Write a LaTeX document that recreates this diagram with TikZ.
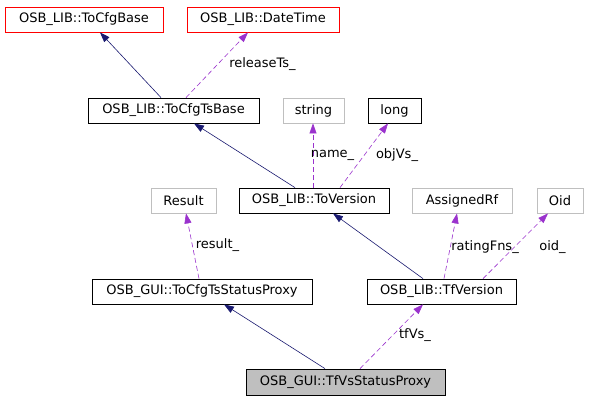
\documentclass[tikz,border=0pt]{standalone}
\usepackage{fontspec}
\setmainfont{DejaVu Sans}
\usepackage{tikz}
\usetikzlibrary{arrows.meta,positioning}

\definecolor{inhblue}{HTML}{191970}
\definecolor{usepurple}{HTML}{9A32CD}
\definecolor{boxgray}{HTML}{BFBFBF}

\begin{document}
\begin{tikzpicture}[
  x=1pt, y=-1pt,
  font=\fontsize{13}{15}\selectfont,
  cls/.style={draw=black, line width=0.8pt, rectangle, minimum height=25pt,
              inner sep=0pt},
  ext/.style={cls, draw=boxgray},
  undoc/.style={cls, draw=red},
  cur/.style={cls, fill=boxgray, minimum height=26pt},
  inh/.style={-{Triangle[length=10pt,width=7pt]}, draw=inhblue, line width=0.6pt},
  use/.style={-{Triangle[length=10pt,width=7pt]}, draw=usepurple, line width=0.6pt,
              dash pattern=on 5pt off 3pt},
  lbl/.style={inner sep=0pt},
]
\useasboundingbox[fill=white] (0,0) rectangle (593,400);

% ======================= top row =======================
\node[undoc, minimum width=158pt] (tcb) at (84,19.5) {OSB\_LIB::ToCfgBase};
\node[undoc, minimum width=152pt] (dt)  at (263,19.5) {OSB\_LIB::DateTime};

% ======================= second row =======================
\node[cls, minimum width=171pt] (tctb) at (173.5,110.5) {OSB\_LIB::ToCfgTsBase};
\node[ext, minimum width=61pt]  (str)  at (313.5,110.5) {string};
\node[cls, minimum width=53pt]  (lng)  at (394.5,110.5) {long};

% ======================= third row =======================
\node[ext, minimum width=65pt]  (res) at (183.5,200.5) {Result};
\node[cls, minimum width=150pt] (tov) at (314,200.5) {OSB\_LIB::ToVersion};
\node[ext, minimum width=100pt] (arf) at (462,200.5) {AssignedRf};
\node[ext, minimum width=46pt]  (oid) at (560,200.5) {Oid};

% ======================= fourth row =======================
\node[cls, minimum width=220pt] (tcsp) at (202,291.5) {OSB\_GUI::ToCfgTsStatusProxy};
\node[cls, minimum width=149pt] (tfv)  at (441.5,291.5) {OSB\_LIB::TfVersion};

% ======================= this class =======================
\node[cur, minimum width=199pt] (tvsp) at (345.5,382) {OSB\_GUI::TfVsStatusProxy};

% ======================= inheritance =======================
\draw[inh] ([xshift=-12.5pt]tctb.north) -- ([xshift=16pt]tcb.south);
\draw[inh] ([xshift=-19pt]tov.north)    -- ([xshift=20.5pt]tctb.south);
\draw[inh] ([xshift=-18.5pt]tfv.north)  -- ([xshift=19pt]tov.south);
\draw[inh] ([xshift=-20.5pt]tvsp.north) -- ([xshift=22pt]tcsp.south);

% ======================= usage =======================
\draw[use] ([xshift=12.5pt]tctb.north) -- ([xshift=-15pt]dt.south);
\draw[use] ([xshift=-1pt]tov.north)    -- ([xshift=-0.5pt]str.south);
\draw[use] ([xshift=26pt]tov.north)    -- ([xshift=-6.5pt]lng.south);
\draw[use] ([xshift=-3pt]tcsp.north)   -- ([xshift=2.5pt]res.south);
\draw[use] ([xshift=2.5pt]tfv.north)   -- ([xshift=-5pt]arf.south);
\draw[use] ([xshift=41.5pt]tfv.north)  -- ([xshift=-12pt]oid.south);
\draw[use] ([xshift=14.5pt]tvsp.north) -- ([xshift=-18.5pt]tfv.south);

% ---- member labels ----
\node[lbl] (l-rel) at (262.5,64)  {releaseTs\_};
\node[lbl] (l-nam) at (332.5,155) {name\_};
\node[lbl] (l-obj) at (397,155)   {objVs\_};
\node[lbl] (l-res) at (217.5,245) {result\_};
\node[lbl] (l-rat) at (485,247)   {ratingFns\_};
\node[lbl] (l-oid) at (552.5,247) {oid\_};
\node[lbl] (l-tfv) at (415,335)   {tfVs\_};
\end{tikzpicture}
\end{document}
